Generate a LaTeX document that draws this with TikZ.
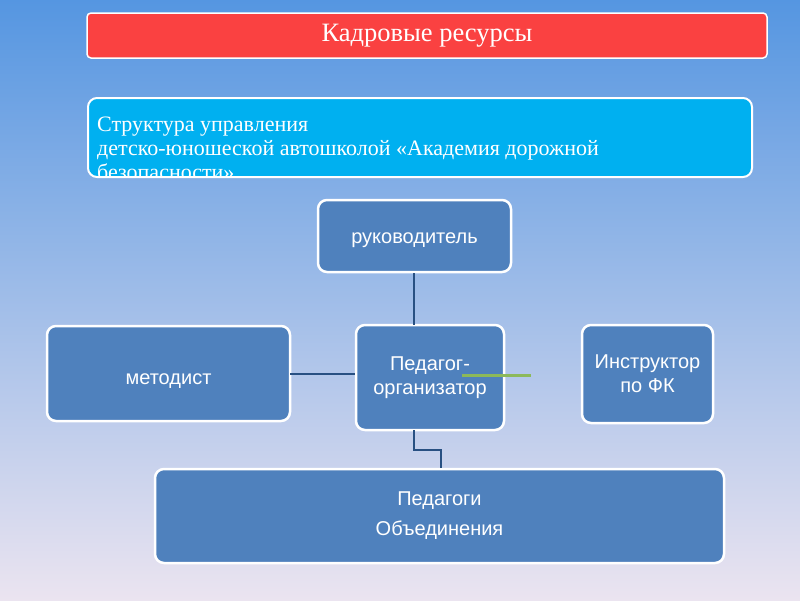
\documentclass[tikz,border=0pt]{standalone}
\usepackage{fontspec}
\setmainfont{Liberation Serif}
\newfontfamily\boxfont{Liberation Sans}
\begin{document}
\begin{tikzpicture}[x=1pt,y=-1pt,
  blk/.style={draw=white,line width=2.5pt,fill=boxblue,rounded corners=9pt,text=white,font=\boxfont\fontsize{20}{24}\selectfont,align=center,inner sep=0pt},
  con/.style={draw=lineblue,line width=1.6pt}]
\definecolor{boxblue}{RGB}{79,129,189}
\definecolor{lineblue}{RGB}{40,80,130}
\definecolor{topred}{RGB}{250,65,65}
\definecolor{cyanb}{RGB}{0,176,240}
\shade[top color={rgb,255:red,85;green,150;blue,225},middle color={rgb,255:red,150;green,195;blue,245},bottom color={rgb,255:red,235;green,228;blue,240}] (0,0) rectangle (800,600);
\useasboundingbox (0,0) rectangle (800,600);
\node[draw=white,line width=1.5pt,fill=topred,rounded corners=4pt,minimum width=680pt,minimum height=45pt,text=white,font=\fontsize{26.5}{30}\selectfont] (title) at (427,35.5) {Кадровые ресурсы};
\node[draw=white,line width=2pt,fill=cyanb,rounded corners=9pt,minimum width=664pt,minimum height=79pt,inner sep=0pt] (cyan) at (420,137.5) {};
\begin{scope}
\clip (90,100) rectangle (750,175);
\node[anchor=north west,text=white,font=\fontsize{22}{24}\selectfont,align=left,inner sep=0pt] (sub) at (97,117) {Структура управления\\детско-юношеской автошколой «Академия дорожной\\безопасности»};
\end{scope}
\node[blk,minimum width=193pt,minimum height=72pt,text height=20pt] (ruk) at (414.5,236) {руководитель};
\node[blk,minimum width=243pt,minimum height=95pt,text height=25pt] (met) at (168.5,373.5) {методист};
\node[blk,minimum width=148pt,minimum height=105pt] (ped) at (430,377.5) {Педагог-\\организатор};
\node[blk,minimum width=131pt,minimum height=98pt] (ins) at (647.5,374) {Инструктор\\по ФК};
\node[blk,minimum width=569pt,minimum height=94pt,font=\boxfont\fontsize{20}{30}\selectfont] (pob) at (439.5,516) {Педагоги\\Объединения};
\coordinate (g1) at (462,375);
\coordinate (g2) at (531,375);
\draw[con] (ruk.south -| 414,0) -- (414,325);
\draw[con] (290,374) -- (ped.west |- 0,374);
\draw[con] (414,430) -- (414,450) -- (441,450) -- (pob.north -| 441,0);
\draw[line width=3pt,color={rgb,255:red,140;green,185;blue,90}] (g1) -- (g2);
\end{tikzpicture}
\end{document}
